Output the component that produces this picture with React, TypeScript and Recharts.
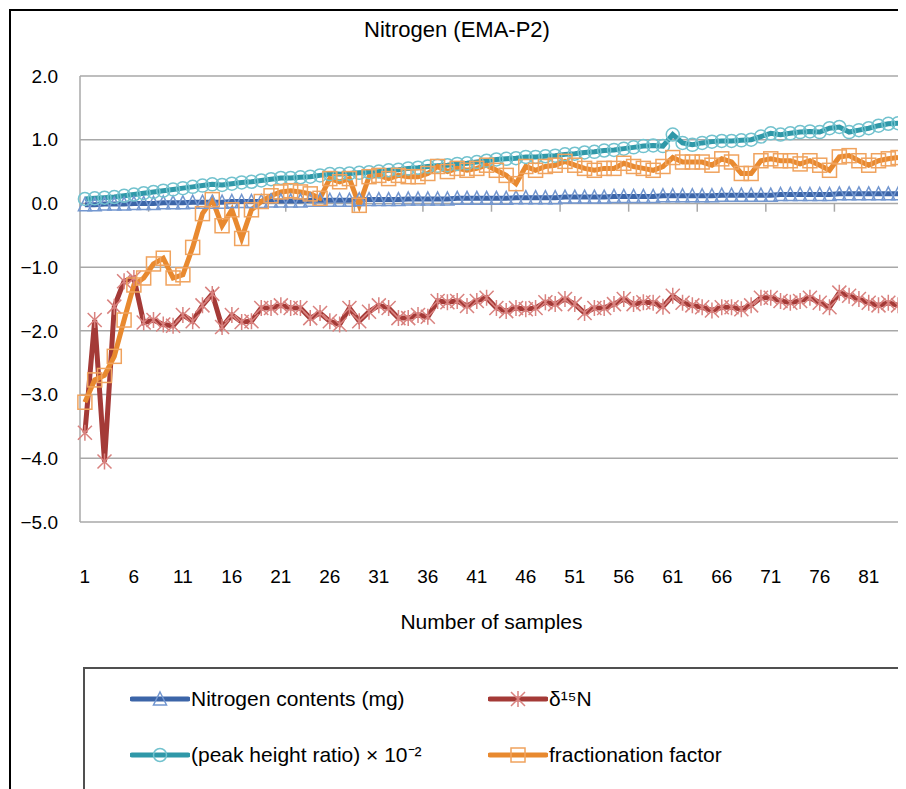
import React from 'react';
import { LineChart, Line, XAxis, YAxis, CartesianGrid, ReferenceLine } from 'recharts';

const sampleCount = 84;
const xLabels = [1, 6, 11, 16, 21, 26, 31, 36, 41, 46, 51, 56, 61, 66, 71, 76, 81];
const yTicks = [-5, -4, -3, -2, -1, 0, 1, 2];
const tickMarks = [0.5, 7.5, 14.5, 21.5, 28.5, 35.5, 42.5, 49.5, 56.5, 63.5, 70.5, 77.5, 84.5];

const nitrogen = [
  -0.02, -0.02, -0.01, -0.01, -0.01, 0.0, 0.0, 0.0, 0.01, 0.01,
  0.01, 0.02, 0.02, 0.02, 0.02, 0.03, 0.03, 0.03, 0.03, 0.04,
  0.04, 0.04, 0.04, 0.05, 0.05, 0.05, 0.05, 0.05, 0.06, 0.06,
  0.06, 0.06, 0.06, 0.07, 0.07, 0.07, 0.07, 0.07, 0.08, 0.08,
  0.08, 0.08, 0.08, 0.08, 0.09, 0.09, 0.09, 0.09, 0.09, 0.1,
  0.1, 0.1, 0.1, 0.1, 0.11, 0.11, 0.11, 0.11, 0.11, 0.12,
  0.12, 0.12, 0.12, 0.12, 0.12, 0.13, 0.13, 0.13, 0.13, 0.13,
  0.13, 0.14, 0.14, 0.14, 0.14, 0.14, 0.14, 0.15, 0.15, 0.15,
  0.15, 0.15, 0.15, 0.15,
];

const delta15N = [
  -3.6, -1.83, -4.05, -1.62, -1.22, -1.17, -1.87, -1.83, -1.9, -1.92,
  -1.75, -1.85, -1.6, -1.42, -1.94, -1.75, -1.86, -1.85, -1.64, -1.64,
  -1.6, -1.64, -1.64, -1.8, -1.72, -1.85, -1.9, -1.64, -1.85, -1.7,
  -1.6, -1.64, -1.8, -1.8, -1.75, -1.78, -1.53, -1.55, -1.53, -1.61,
  -1.53, -1.48, -1.64, -1.69, -1.64, -1.66, -1.64, -1.55, -1.58, -1.5,
  -1.58, -1.72, -1.64, -1.64, -1.58, -1.5, -1.58, -1.55, -1.56, -1.62,
  -1.45, -1.56, -1.6, -1.63, -1.68, -1.63, -1.63, -1.66, -1.6, -1.48,
  -1.48, -1.53, -1.56, -1.53, -1.48, -1.56, -1.63, -1.4, -1.45, -1.5,
  -1.56, -1.6, -1.56, -1.6,
];

const peakRatio = [
  0.07, 0.08, 0.09, 0.1, 0.12, 0.14, 0.16, 0.18, 0.2, 0.22,
  0.24, 0.26, 0.28, 0.3, 0.29, 0.31, 0.33, 0.34, 0.36, 0.38,
  0.4, 0.4, 0.41, 0.42, 0.44, 0.46, 0.46, 0.47, 0.48, 0.49,
  0.5, 0.52, 0.53, 0.55, 0.56, 0.58, 0.59, 0.6, 0.62, 0.63,
  0.65, 0.67, 0.69, 0.7, 0.71, 0.73, 0.73, 0.74, 0.75, 0.77,
  0.78, 0.8, 0.81, 0.83, 0.84, 0.86, 0.88, 0.9, 0.91, 0.9,
  1.08, 0.95, 0.92, 0.95, 0.97, 0.98, 0.98, 0.99, 1.0, 1.05,
  1.1, 1.08, 1.1, 1.12, 1.13, 1.12, 1.18, 1.2, 1.12, 1.15,
  1.18, 1.22, 1.25, 1.26,
];

const fractionation = [
  -3.12, -2.77, -2.7, -2.4, -1.83, -1.28, -1.17, -0.95, -0.86, -1.17,
  -1.12, -0.69, -0.16, 0.06, -0.35, -0.1, -0.55, -0.1, 0.03, 0.12,
  0.18, 0.2, 0.18, 0.15, 0.08, 0.39, 0.34, 0.39, -0.03, 0.42,
  0.44, 0.39, 0.44, 0.42, 0.42, 0.47, 0.58, 0.5, 0.55, 0.52,
  0.55, 0.6, 0.52, 0.44, 0.31, 0.58, 0.52, 0.58, 0.6, 0.66,
  0.6, 0.55, 0.52, 0.55, 0.55, 0.63, 0.58, 0.55, 0.52, 0.58,
  0.72, 0.65, 0.65, 0.65, 0.6, 0.7, 0.65, 0.47, 0.47, 0.67,
  0.7, 0.67, 0.67, 0.62, 0.67, 0.6, 0.52, 0.73, 0.75, 0.67,
  0.6, 0.67, 0.7, 0.72,
];

const data = Array.from({ length: sampleCount }, (_, i) => ({
  n: i + 1,
  nitrogen: nitrogen[i],
  delta: delta15N[i],
  peak: peakRatio[i],
  frac: fractionation[i],
}));

const FONT = '"Liberation Sans", Arial, sans-serif';
const GRID = '#A8A8A8';

const C = {
  nLine: '#3C65A8', nMark: '#7397D0',
  dLine: '#A43A37', dMark: '#D9827F',
  pLine: '#2F98A8', pMark: '#72C2CE',
  fLine: '#E8892F', fMark: '#F0A35E',
};

const triangle = (color: string) => (p: any) => {
  const { cx, cy, index } = p;
  if (cx == null || cy == null) return <g key={index} />;
  return (
    <path key={index} d={`M${cx},${cy - 7} L${cx + 6.5},${cy + 6} L${cx - 6.5},${cy + 6} Z`}
      fill="none" stroke={color} strokeWidth={1.5} />
  );
};

const star = (color: string) => (p: any) => {
  const { cx, cy, index } = p;
  if (cx == null || cy == null) return <g key={index} />;
  return (
    <path key={index}
      d={`M${cx},${cy - 8} L${cx},${cy + 8} M${cx - 7},${cy - 7} L${cx + 7},${cy + 7} M${cx + 7},${cy - 7} L${cx - 7},${cy + 7}`}
      stroke={color} strokeWidth={1.5} fill="none" />
  );
};

const circle = (color: string) => (p: any) => {
  const { cx, cy, index } = p;
  if (cx == null || cy == null) return <g key={index} />;
  return <circle key={index} cx={cx} cy={cy} r={6.5} fill="none" stroke={color} strokeWidth={1.5} />;
};

const square = (color: string) => (p: any) => {
  const { cx, cy, index } = p;
  if (cx == null || cy == null) return <g key={index} />;
  return <rect key={index} x={cx - 7} y={cy - 7} width={14} height={14} fill="none" stroke={color} strokeWidth={1.5} />;
};

const fmtY = (v: number) => (v < 0 ? '\u2212' : '') + Math.abs(v).toFixed(1);

const LegendIcon = ({ line, mark, shape }: { line: string; mark: string; shape: string }) => (
  <svg width={60} height={22} style={{ display: 'block', flex: 'none' }}>
    <line x1={2} y1={11} x2={58} y2={11} stroke={line} strokeWidth={5} strokeLinecap="round" />
    {shape === 'tri' && <path d="M30,4 L36.5,17 L23.5,17 Z" fill="none" stroke={mark} strokeWidth={1.5} />}
    {shape === 'star' && <path d="M30,3 L30,19 M23,4 L37,18 M37,4 L23,18" stroke={mark} strokeWidth={1.5} />}
    {shape === 'circle' && <circle cx={30} cy={11} r={6.5} fill="none" stroke={mark} strokeWidth={1.5} />}
    {shape === 'square' && <rect x={23} y={4} width={14} height={14} fill="none" stroke={mark} strokeWidth={1.5} />}
  </svg>
);

const legendItems = [
  { label: 'Nitrogen contents (mg)', line: C.nLine, mark: C.nMark, shape: 'tri', left: 45, top: 19 },
  { label: 'δ\u00B9\u2075N', line: C.dLine, mark: C.dMark, shape: 'star', left: 403, top: 19 },
  { label: '(peak height ratio) \u00D7 10\u207B\u00B2', line: C.pLine, mark: C.pMark, shape: 'circle', left: 45, top: 75 },
  { label: 'fractionation factor', line: C.fLine, mark: C.fMark, shape: 'square', left: 403, top: 75 },
];

export default function App() {
  return (
    <div style={{ position: 'relative', width: 898, height: 781, overflow: 'hidden', fontFamily: FONT, background: '#fff' }}>
      <div style={{ position: 'absolute', left: 1, top: 1, width: 900, height: 800, borderLeft: '2px solid #000', borderTop: '2px solid #000' }} />
      <div style={{ position: 'absolute', left: 0, width: 898, top: 9, textAlign: 'center', fontSize: 22, lineHeight: '26px', color: '#000' }}>
        Nitrogen (EMA-P2)
      </div>
      <LineChart width={898} height={781} data={data} margin={{ top: 68, right: 3, bottom: 207, left: 0 }}>
        <CartesianGrid vertical={false} stroke={GRID} strokeWidth={1.5} />
        <XAxis
          type="number"
          dataKey="n"
          domain={[0.5, 84.5]}
          ticks={xLabels}
          interval={0}
          axisLine={false}
          tickLine={false}
          tickSize={0}
          tickMargin={48}
          height={60}
          tick={{ fontSize: 19, fill: '#000', fontFamily: FONT }}
        />
        <YAxis
          type="number"
          domain={[-5, 2]}
          ticks={yTicks}
          interval={0}
          width={72}
          tickFormatter={fmtY}
          axisLine={{ stroke: GRID, strokeWidth: 1.5 }}
          tickLine={false}
          tickSize={0}
          tickMargin={22}
          tick={{ fontSize: 19, fill: '#000', fontFamily: FONT }}
        />
        {tickMarks.map((t) => (
          <ReferenceLine key={t} segment={[{ x: t, y: 0 }, { x: t, y: -0.13 }]} stroke={GRID} strokeWidth={1.5} />
        ))}
        <Line dataKey="nitrogen" stroke={C.nLine} strokeWidth={5} dot={triangle(C.nMark)} isAnimationActive={false} />
        <Line dataKey="delta" stroke={C.dLine} strokeWidth={5} dot={star(C.dMark)} isAnimationActive={false} />
        <Line dataKey="peak" stroke={C.pLine} strokeWidth={5} dot={circle(C.pMark)} isAnimationActive={false} />
        <Line dataKey="frac" stroke={C.fLine} strokeWidth={5} dot={square(C.fMark)} isAnimationActive={false} />
      </LineChart>
      <div style={{ position: 'absolute', left: 72, width: 823, top: 602, textAlign: 'center', fontSize: 21, lineHeight: '24px', color: '#000' }}>
        Number of samples
      </div>
      <div style={{ position: 'absolute', left: 75, top: 659, width: 900, height: 200, border: '2px solid #505050' }}>
        {legendItems.map((it) => (
          <div key={it.label} style={{ position: 'absolute', left: it.left, top: it.top, height: 22, display: 'flex', alignItems: 'center', fontSize: 21, lineHeight: '22px', color: '#000', whiteSpace: 'nowrap' }}>
            <LegendIcon line={it.line} mark={it.mark} shape={it.shape} />
            <span style={{ marginLeft: 1, lineHeight: '22px' }}>{it.label}</span>
          </div>
        ))}
      </div>
    </div>
  );
}
